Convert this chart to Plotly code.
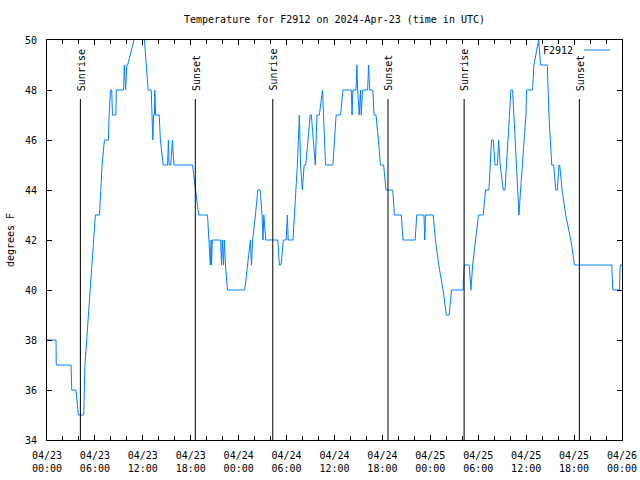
import plotly.graph_objects as go

# Hours since 2024-04-23 00:00 UTC and temperature (deg F)
hours = [0, 1.13, 1.16, 3.01, 3.1, 3.63, 3.93, 4.6, 4.75, 5.2, 5.6, 6.06, 6.57, 6.9, 7.19, 7.69, 7.78, 7.95,
         8.1, 8.2, 8.62, 8.68, 9.58, 9.68, 9.85, 9.98, 10.1, 10.9, 11.15, 12.0, 12.2, 12.45, 12.67, 13.05,
         13.15, 13.25, 13.35, 13.45, 13.5, 13.6, 14.05, 14.2, 14.55, 15.1, 15.2, 15.3, 15.5, 15.7, 15.9,
         18.23, 18.6, 19.0, 20.1, 20.25, 20.45, 20.55, 20.6, 20.7, 21.75, 21.85, 21.95, 22.1, 22.2, 22.35,
         22.6, 24.76, 25.1, 25.47, 25.6, 25.75, 26.1, 26.4, 26.7, 26.93, 27.05, 27.15, 27.4, 28.9, 29.1,
         29.3, 29.6, 29.95, 30.1, 30.2, 30.8, 31.2, 31.35, 31.6, 31.75, 31.97, 32.2, 32.4, 32.96, 33.1,
         33.6, 33.8, 34.1, 34.5, 34.88, 35.8, 36.2, 36.77, 37.05, 38.1, 38.2, 38.3, 38.7, 38.8, 38.9,
         39.1, 39.25, 39.35, 39.5, 40.15, 40.27, 40.4, 40.8, 40.95, 41.2, 41.5, 41.75, 42.15, 42.45,
         43.3, 43.5, 44.37, 44.58, 46.1, 46.3, 47.2, 47.3, 47.4, 48.35, 48.64, 49.05, 49.6, 50.0, 50.36,
         50.65, 52.1, 52.24, 52.87, 53.08, 53.3, 53.7, 54.03, 54.62, 54.91, 55.33, 55.67, 55.88, 56.1,
         56.4, 56.55, 56.75, 57.13, 57.35, 58.09, 58.3, 59.1, 59.3, 59.97, 60.05, 60.8, 60.97, 61.56,
         61.8, 62.65, 62.85, 63.05, 63.2, 63.45, 63.7, 63.9, 64.1, 64.2, 64.5, 64.95, 65.6, 66.05, 70.72,
         70.85, 71.68, 71.77, 72]
temps = [38, 38, 37, 37, 36, 36, 35, 35, 37, 39, 41, 43, 43, 45, 46, 46, 47, 48,
         48, 47, 47, 48, 48, 49, 48, 49, 49, 50, 51, 51, 50, 49, 48, 48,
         47, 46, 47, 47, 48, 47, 47, 46, 45, 45, 46, 45, 45, 46, 45,
         45, 44, 43, 43, 42, 41, 42, 41, 42, 42, 41, 42, 41, 42, 41,
         40, 40, 41, 42, 41, 42, 43, 44, 44, 43, 42, 43, 42, 42, 41,
         41, 42, 42, 43, 42, 42, 44, 45, 47, 45, 44, 45, 45, 47, 47,
         45, 47, 47, 48, 45, 45, 47, 47, 48, 48, 47, 48, 48, 49, 48,
         47, 48, 47, 48, 48, 49, 48, 48, 47, 47, 46, 45, 45, 44,
         44, 43, 43, 42, 42, 43, 43, 42, 43, 43, 42, 41, 40, 39, 39,
         40, 40, 41, 41, 40, 41, 42, 43, 43, 44, 44, 46, 46, 45,
         45, 46, 45, 44, 44, 48, 48, 43, 44, 47, 48, 48, 49, 50,
         49, 49, 47, 46, 45, 45, 44, 44, 45, 45, 44, 43, 42, 41, 41,
         40, 40, 41, 41]

sunrise_hours = [4.18, 28.27, 52.23]
sunset_hours = [18.57, 42.7, 66.66]

tick_hours = [0, 6, 12, 18, 24, 30, 36, 42, 48, 54, 60, 66, 72]
tick_labels = ["04/23<br>00:00", "04/23<br>06:00", "04/23<br>12:00", "04/23<br>18:00",
               "04/24<br>00:00", "04/24<br>06:00", "04/24<br>12:00", "04/24<br>18:00",
               "04/25<br>00:00", "04/25<br>06:00", "04/25<br>12:00", "04/25<br>18:00",
               "04/26<br>00:00"]
y_ticks = [34, 36, 38, 40, 42, 44, 46, 48, 50]

series_name = "F2912"
line_color = "rgb(0,128,255)"
FONT = "DejaVu Sans Mono"

fig = go.Figure()
fig.add_trace(go.Scatter(x=hours, y=temps, mode="lines", name=series_name,
                         line=dict(color=line_color, width=1), showlegend=False,
                         cliponaxis=True))

shapes = []
annotations = []
for h, lab in [(h, "Sunrise") for h in sunrise_hours] + [(h, "Sunset") for h in sunset_hours]:
    shapes.append(dict(type="line", xref="x", yref="paper", x0=h, x1=h, y0=0, y1=0.8525,
                       line=dict(color="black", width=1)))
    annotations.append(dict(x=h, y=0.868, xref="x", yref="paper", text=lab, textangle=-90,
                            showarrow=False, xanchor="center", yanchor="bottom", xshift=1,
                            font=dict(family=FONT, size=10, color="black")))

# legend (gnuplot style: text then sample)
annotations.append(dict(x=0.918, y=0.975, xref="paper", yref="paper", text=series_name,
                        showarrow=False, xanchor="right", yanchor="middle",
                        font=dict(family=FONT, size=10, color="black")))
shapes.append(dict(type="line", xref="paper", yref="paper", x0=0.934, x1=0.979, y0=0.975, y1=0.975,
                   line=dict(color=line_color, width=1)))

fig.update_layout(
    width=640, height=480,
    margin=dict(l=47, r=18, t=40, b=40, autoexpand=False),
    paper_bgcolor="white", plot_bgcolor="white",
    title=dict(text="Temperature for F2912 on 2024-Apr-23 (time in UTC)", x=0.5, xref="paper",
               y=1 - 19 / 480, yref="container", xanchor="center", yanchor="middle",
               font=dict(family=FONT, size=10, color="black")),
    font=dict(family=FONT, size=10, color="black"),
    shapes=shapes, annotations=annotations,
    showlegend=False,
)
fig.update_xaxes(range=[0, 72], tickmode="array", tickvals=tick_hours, ticktext=tick_labels,
                 ticks="inside", ticklen=5, tickcolor="black", showline=True, linecolor="black",
                 linewidth=1, mirror="ticks", showgrid=False, zeroline=False, automargin=False,
                 minor=dict(dtick=2, tick0=0, ticks="inside", ticklen=4, tickcolor="black",
                            showgrid=False),
                 tickfont=dict(family=FONT, size=10), ticklabelstandoff=6)
fig.update_yaxes(range=[34, 50], tickmode="array", tickvals=y_ticks,
                 ticks="inside", ticklen=5, tickcolor="black", showline=True, linecolor="black",
                 linewidth=1, mirror="ticks", showgrid=False, zeroline=False, automargin=False,
                 tickfont=dict(family=FONT, size=10), ticklabelstandoff=7,
                 title=dict(text="degrees F", font=dict(family=FONT, size=10), standoff=8))

fig.write_html("out.html", config={"displayModeBar": False},
               post_script="document.body.style.margin='0';document.body.style.overflow='hidden';")
